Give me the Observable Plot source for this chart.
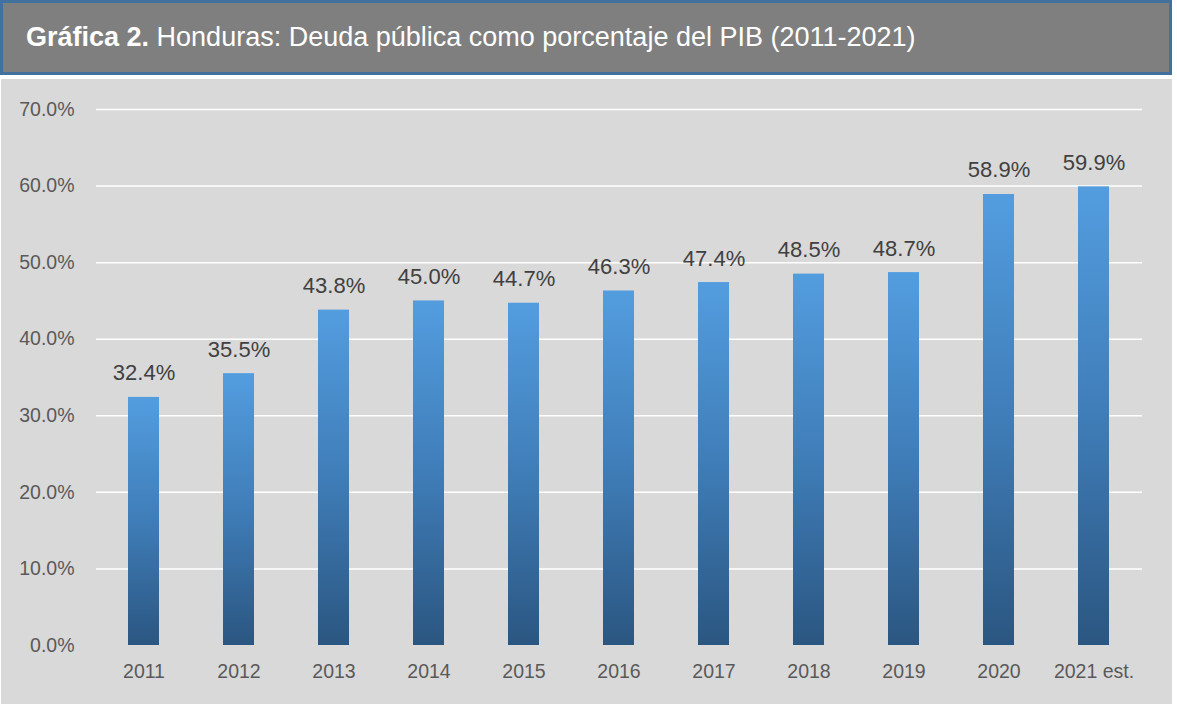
<!DOCTYPE html>
<html>
<head>
<meta charset="utf-8">
<script src="https://cdn.jsdelivr.net/npm/d3@7"></script>
<script src="https://cdn.jsdelivr.net/npm/@observablehq/plot@0.6"></script>
<style>
  html, body { margin: 0; padding: 0; background: #ffffff; }
  body { width: 1177px; height: 704px; position: relative; overflow: hidden; }
  #title {
    position: absolute; left: 0; top: 0; width: 1166px; height: 69px;
    background: #7f7f7f; border: 3px solid #41719c;
    color: #ffffff; font-family: "Liberation Sans", Arial, sans-serif;
    font-size: 27px; line-height: 69px; padding-left: 0;
  }
  #title span.t { position: absolute; left: 23px; top: 0px; white-space: nowrap; }
  #title b { font-weight: bold; }
  #panel {
    position: absolute; left: 1px; top: 79px; width: 1171px; height: 625px;
    background: #d9d9d9;
  }
  #panel svg { display: block; }
</style>
</head>
<body>
<div id="title"><span class="t"><b>Gráfica 2.</b> Honduras: Deuda pública como porcentaje del PIB (2011-2021)</span></div>
<div id="panel"></div>
<script>
const years = ["2011", "2012", "2013", "2014", "2015", "2016", "2017", "2018", "2019", "2020", "2021 est."];
const values = [32.4, 35.5, 43.8, 45.0, 44.7, 46.3, 47.4, 48.5, 48.7, 58.9, 59.9];
const yTicks = [0, 10, 20, 30, 40, 50, 60, 70];

const data = years.map((y, i) => ({year: y, value: values[i]}));
const fmt = d => d.toFixed(1) + "%";

const chart = Plot.plot({
  width: 1171,
  height: 625,
  marginTop: 30,
  marginBottom: 59,
  marginLeft: 95,
  marginRight: 30,
  style: {background: "transparent", fontFamily: "'Liberation Sans', Arial, sans-serif", overflow: "visible"},
  x: {domain: years, paddingInner: 0.67, paddingOuter: 0.335, label: null},
  y: {domain: [0, 70], label: null},
  marks: [
    Plot.gridY(yTicks.filter(d => d > 0), {stroke: "#ffffff", strokeOpacity: 1, strokeWidth: 1.5}),
    Plot.axisY(yTicks, {tickSize: 0, tickPadding: 22, tickFormat: fmt, fontSize: 19.5, fill: "#595959", label: null}),
    Plot.axisX({tickSize: 0, tickPadding: 19, fontSize: 19.5, fill: "#595959", label: null}),
    Plot.barY(data, {x: "year", y: "value", fill: "url(#barGrad)"}),
    Plot.text(data, {x: "year", y: "value", text: d => fmt(d.value), lineAnchor: "bottom", dy: -17, fontSize: 22, fill: "#404040"})
  ]
});

// gradient definition for bars
const ns = "http://www.w3.org/2000/svg";
const defs = document.createElementNS(ns, "defs");
const grad = document.createElementNS(ns, "linearGradient");
grad.setAttribute("id", "barGrad");
grad.setAttribute("x1", "0"); grad.setAttribute("y1", "0");
grad.setAttribute("x2", "0"); grad.setAttribute("y2", "1");
[["0%", "#539ddf"], ["50%", "#3f7db8"], ["100%", "#2b5681"]].forEach(([o, c]) => {
  const s = document.createElementNS(ns, "stop");
  s.setAttribute("offset", o); s.setAttribute("stop-color", c);
  grad.appendChild(s);
});
defs.appendChild(grad);
chart.insertBefore(defs, chart.firstChild);

document.getElementById("panel").appendChild(chart);
</script>
</body>
</html>
